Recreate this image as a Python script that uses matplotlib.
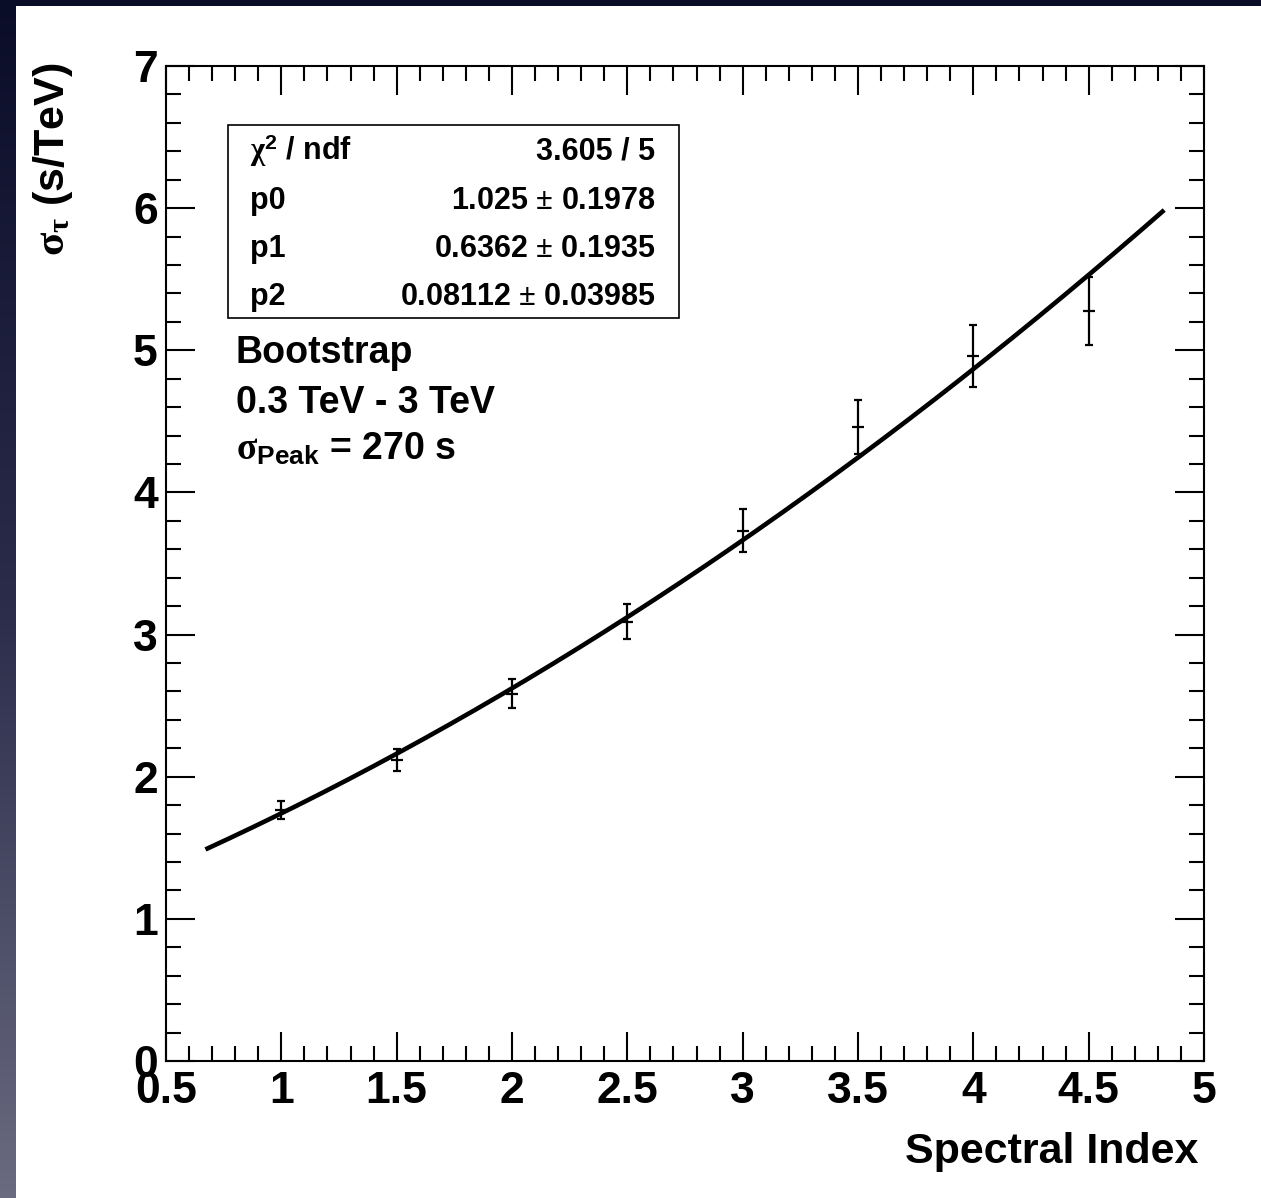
import numpy as np
import matplotlib
matplotlib.use('Agg')
import matplotlib.pyplot as plt
from matplotlib.patches import Rectangle
from matplotlib.ticker import MultipleLocator, FormatStrFormatter

plt.rcParams['font.family'] = ['Liberation Sans', 'DejaVu Sans']
plt.rcParams['font.weight'] = 'bold'
plt.rcParams['mathtext.fontset'] = 'custom'
plt.rcParams['mathtext.rm'] = 'Liberation Serif'
plt.rcParams['mathtext.it'] = 'Liberation Serif:italic'
plt.rcParams['mathtext.bf'] = 'Liberation Sans:bold'

# Measured points (spectral index vs sigma_tau)
index = [1.0, 1.5, 2.0, 2.5, 3.0, 3.5, 4.0, 4.5]
sigma = [1.765, 2.115, 2.585, 3.09, 3.73, 4.46, 4.96, 5.275]
sigma_err = [0.065, 0.078, 0.10, 0.122, 0.151, 0.189, 0.219, 0.239]

# Fit: pol2 parameters from the stats box
p0, p1, p2 = 1.025, 0.6362, 0.08112
fit_range = (0.68, 4.82)
stats_rows = [(r'$\mathrm{\chi}^{\mathbf{2}}$ / ndf', '3.605 / 5'),
              ('p0', r'1.025 $\pm$ 0.1978'),
              ('p1', r'0.6362 $\pm$ 0.1935'),
              ('p2', r'0.08112 $\pm$ 0.03985')]
info_lines = ['Bootstrap', '0.3 TeV - 3 TeV', r'$\mathrm{\sigma}_{\mathbf{Peak}}$ = 270 s']

W, H = 1261, 1198
fig = plt.figure(figsize=(W / 100, H / 100), dpi=100)

# dark slide background + white panel
bg = fig.add_axes([0, 0, 1, 1], zorder=-10)
grad = np.linspace(0, 1, 256).reshape(-1, 1)
bg.imshow(grad, aspect='auto', extent=[0, 1, 0, 1], origin='upper',
          cmap=matplotlib.colors.LinearSegmentedColormap.from_list('bg', ['#0a0d28', '#2a2c4a', '#6a6a80']))
bg.add_patch(Rectangle((16 / W, 0), 1 - 16 / W, 1 - 6 / H, transform=bg.transAxes,
                       facecolor='white', edgecolor='none'))
bg.set_xlim(0, 1)
bg.set_ylim(0, 1)
bg.axis('off')

ax = fig.add_axes([166 / W, 1 - 1061 / H, (1204 - 166) / W, (1061 - 66) / H])
ax.set_facecolor('white')

xf = np.linspace(fit_range[0], fit_range[1], 300)
ax.plot(xf, p0 + p1 * xf + p2 * xf ** 2, color='black', lw=3.3, zorder=3)
ax.errorbar(index, sigma, yerr=sigma_err, fmt='_', color='black', ms=9, mew=1.6,
            elinewidth=1.6, capsize=2.9, capthick=1.6, zorder=4)

ax.set_xlim(0.5, 5)
ax.set_ylim(0, 7)
ax.xaxis.set_major_locator(MultipleLocator(0.5))
ax.xaxis.set_minor_locator(MultipleLocator(0.1))
ax.yaxis.set_major_locator(MultipleLocator(1))
ax.yaxis.set_minor_locator(MultipleLocator(0.2))
ax.xaxis.set_major_formatter(FormatStrFormatter('%g'))
ax.yaxis.set_major_formatter(FormatStrFormatter('%g'))
ax.tick_params(which='both', direction='in', top=True, right=True, width=1.5, colors='black')
ax.tick_params(which='major', length=21, labelsize=32)
ax.tick_params(which='minor', length=11)
ax.tick_params(axis='x', which='major', pad=7)
ax.tick_params(axis='y', which='major', pad=6)
for s in ax.spines.values():
    s.set_linewidth(1.5)

fig.text(1198 / W, 1 - 1163 / H, 'Spectral Index', ha='right', va='baseline',
         fontsize=31, fontweight='bold')
fig.text(53 / W, 1 - 62 / H, r'$\mathrm{\sigma_{\tau}}$ (s/TeV)', rotation=90,
         ha='center', va='top', fontsize=31, fontweight='bold')

# stats box
fig.patches.append(Rectangle((228 / W, 1 - 318 / H), (679 - 228) / W, (318 - 125) / H,
                             transform=fig.transFigure, facecolor='white',
                             edgecolor='black', lw=1.2, zorder=5))
row_y = [160, 209, 257, 305]
for (name, val), yb in zip(stats_rows, row_y):
    fig.text(250 / W, 1 - yb / H, name, ha='left', va='baseline', fontsize=22,
             fontweight='bold', zorder=6)
    fig.text(655 / W, 1 - yb / H, val, ha='right', va='baseline', fontsize=22,
             fontweight='bold', zorder=6)

for line, yb in zip(info_lines, [363, 413, 460]):
    fig.text(236 / W, 1 - yb / H, line, ha='left', va='baseline', fontsize=27,
             fontweight='bold')

fig.savefig('out.png', dpi=100)
